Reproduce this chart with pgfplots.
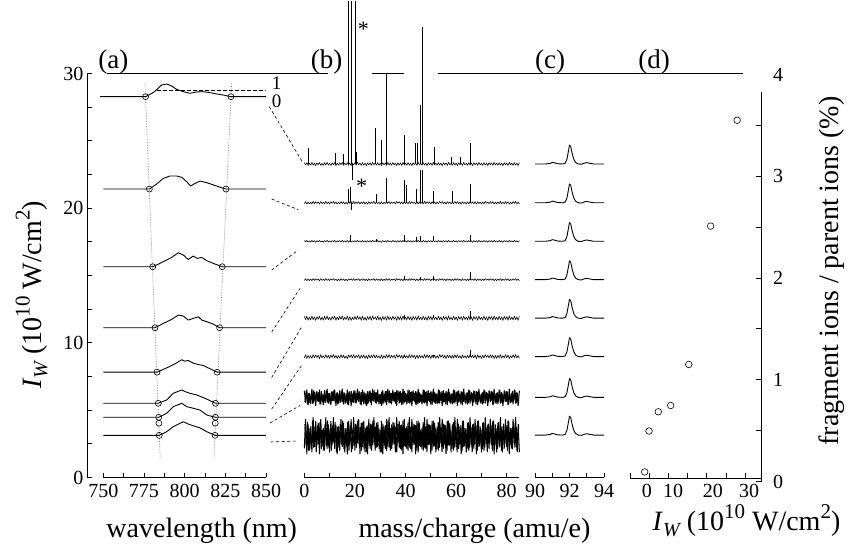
\documentclass[border=0pt]{standalone}
\usepackage{fontspec}
\setmainfont{Liberation Serif}
\usepackage{pgfplots}
\usepackage{pgfplotstable}
\pgfplotsset{compat=1.18}
\newcommand\sups[1]{\raisebox{0.42em}{\fontsize{21}{22}\selectfont #1}}
\newcommand\IW{\textit{I}\raisebox{-0.22em}{\fontsize{20}{22}\selectfont\itshape W}}

% ---------- panel (a): spectra, relative heights (units of I_W axis) ----------
\pgfplotstableread{
x y
748 0
776.0 0
780.7 0.30
783.8 0.62
785.9 0.87
789.0 0.94
792.0 0.79
795.1 0.54
799.2 0.37
803.3 0.25
807.4 0.35
811.5 0.37
815.6 0.30
819.7 0.20
823.8 0.12
828.5 0
850 0
}\sA
\pgfplotstableread{
x y
750 0
778.3 0
782.8 0.37
786.9 0.79
791.0 0.97
795.1 0.97
798.2 0.87
801.3 0.54
803.7 0.22
806.4 0.42
809.4 0.59
813.6 0.47
816.6 0.35
819.7 0.22
825.4 0
850 0
}\sB
\pgfplotstableread{
x y
750 0
780.4 0
784.8 0.25
789.0 0.50
792.0 0.69
796.1 1.04
799.2 0.87
802.2 0.54
805.3 0.79
807.8 0.62
810.5 0.69
813.6 0.45
817.6 0.25
823.1 0
850 0
}\sC
\pgfplotstableread{
x y
750 0
781.8 0
786.9 0.32
792.0 0.62
796.1 0.94
799.2 0.87
802.2 0.57
805.3 0.69
808.4 0.82
810.5 0.57
813.6 0.45
817.6 0.27
821.5 0
850 0
}\sD
\pgfplotstableread{
x y
750 0
783.0 0
789.0 0.32
794.1 0.62
798.2 0.92
800.2 0.82
802.2 0.87
805.3 0.67
808.4 0.57
811.5 0.50
814.5 0.32
820.0 0
850 0
}\sE
\pgfplotstableread{
x y
750 0
783.8 0
789.0 0.25
793.0 0.74
798.2 0.99
800.2 0.87
803.3 0.74
807.4 0.62
812.5 0.37
819.0 0
850 0
}\sF
\pgfplotstableread{
x y
750 0
784.1 0
789.0 0.30
793.0 0.79
798.2 1.04
801.3 0.79
805.3 0.67
809.4 0.54
813.6 0.17
818.9 0
850 0
}\sG
\pgfplotstableread{
x y
750 0
784.4 0
789.0 0.27
793.0 0.64
797.1 0.89
799.2 1.01
802.2 0.84
805.3 0.71
809.4 0.56
813.6 0.27
818.7 0
850 0
}\sH

% ---------- panel (b): baseline noise (relative, read as a zig-zag) ----------
\pgfplotstableread[row sep=\\]{n\\
0.8\\-0.6\\0.9\\-0.9\\0.5\\-0.8\\1.0\\-0.7\\0.6\\-1.0\\
0.7\\-0.5\\0.9\\-0.8\\0.4\\-0.9\\0.8\\-0.6\\1.0\\-0.7\\
0.5\\-0.9\\0.7\\-0.4\\0.9\\-1.0\\0.6\\-0.7\\0.8\\-0.5\\
1.0\\-0.8\\0.5\\-0.6\\0.9\\-0.9\\0.7\\-1.0\\0.4\\-0.6\\
0.8\\-0.7\\1.0\\-0.5\\0.6\\-0.9\\0.9\\-0.8\\0.5\\-1.0\\
0.7\\-0.6\\0.8\\-0.9\\1.0\\-0.5\\0.6\\-0.7\\0.9\\-0.8\\
0.4\\-1.0\\0.8\\-0.6\\0.7\\-0.9\\1.0\\-0.7\\0.5\\-0.8\\
0.9\\-0.5\\0.6\\-1.0\\0.8\\-0.7\\0.7\\-0.9\\1.0\\-0.6\\
0.5\\-0.8\\0.9\\-0.7\\0.6\\-1.0\\0.8\\-0.5\\0.7\\-0.9\\
1.0\\-0.6\\0.4\\-0.8\\0.9\\-0.7\\0.6\\-1.0\\0.8\\-0.5\\
0.7\\-0.9\\1.0\\-0.6\\0.5\\-0.8\\0.9\\-0.7\\0.6\\-1.0\\
0.8\\-0.5\\0.7\\-0.9\\1.0\\-0.6\\0.4\\-0.8\\0.9\\-0.7\\
0.6\\-1.0\\0.8\\-0.5\\0.7\\-0.9\\1.0\\-0.6\\0.5\\-0.8\\
0.9\\-0.7\\0.6\\-1.0\\0.8\\-0.5\\0.7\\-0.9\\1.0\\-0.6\\
0.4\\-0.8\\0.9\\-0.7\\0.6\\-1.0\\0.8\\-0.5\\0.7\\-0.9\\
1.0\\-0.6\\0.5\\-0.8\\0.9\\-0.7\\0.6\\-1.0\\0.8\\-0.5\\
0.7\\-0.9\\1.0\\-0.6\\0.5\\-0.8\\0.9\\-0.7\\0.6\\-1.0\\
0.8\\}\noiseA
\pgfplotstableread[row sep=\\]{n\\
-0.7\\0.9\\-1.0\\0.6\\-0.8\\0.5\\-0.9\\1.0\\-0.6\\0.8\\
-0.5\\0.7\\-1.0\\0.9\\-0.6\\0.4\\-0.8\\1.0\\-0.7\\0.6\\
-0.9\\0.8\\-0.5\\1.0\\-0.7\\0.6\\-1.0\\0.5\\-0.8\\0.9\\
-0.6\\0.7\\-0.9\\0.4\\-1.0\\0.8\\-0.5\\0.9\\-0.7\\1.0\\
-0.8\\0.6\\-0.4\\0.9\\-1.0\\0.7\\-0.6\\0.8\\-0.9\\0.5\\
-1.0\\0.9\\-0.7\\0.6\\-0.5\\1.0\\-0.8\\0.7\\-0.6\\0.4\\
-0.9\\0.8\\-1.0\\0.5\\-0.7\\0.9\\-0.6\\1.0\\-0.8\\0.6\\
-0.5\\0.7\\-0.9\\1.0\\-0.4\\0.8\\-0.7\\0.6\\-1.0\\0.9\\
-0.6\\0.5\\-0.8\\1.0\\-0.7\\0.9\\-0.5\\0.6\\-1.0\\0.8\\
-0.9\\0.7\\-0.6\\0.4\\-0.8\\1.0\\-0.7\\0.9\\-0.5\\0.6\\
-1.0\\0.8\\-0.6\\0.7\\-0.9\\0.5\\-0.8\\1.0\\-0.4\\0.9\\
-0.7\\0.6\\-1.0\\0.8\\-0.5\\0.7\\-0.9\\0.6\\-0.8\\1.0\\
-0.6\\0.9\\-0.7\\0.5\\-1.0\\0.8\\-0.6\\0.4\\-0.9\\0.7\\
-0.8\\1.0\\-0.5\\0.6\\-0.7\\0.9\\-1.0\\0.8\\-0.6\\0.5\\
-0.9\\0.7\\-0.8\\1.0\\-0.4\\0.6\\-0.7\\0.9\\-0.5\\0.8\\
-1.0\\0.6\\-0.9\\0.7\\-0.6\\1.0\\-0.8\\0.5\\-0.7\\0.9\\
-0.6\\0.8\\-1.0\\0.4\\-0.7\\0.9\\-0.5\\1.0\\-0.8\\0.6\\
-0.9\\}\noiseB

% ---------- panel (c): parent-ion peak shape (relative) ----------
\pgfplotstableread{
x y
90.0 0
90.6 0
90.9 0.05
91.0 0.12
91.15 0.08
91.3 0.02
91.6 0.0
91.75 0.05
91.85 0.35
91.93 0.9
92.0 1.4
92.07 1.3
92.15 0.8
92.25 0.35
92.35 0.12
92.5 0.0
92.7 -0.02
92.85 0.06
93.0 0.1
93.15 0.06
93.4 0.0
94.0 0
}\cpk

\pgfplotsset{
  every axis/.append style={
    scale only axis, clip=false,
    axis line style={line width=0.8pt},
    tick style={line width=0.8pt, black},
    tick align=inside,
    major tick length=4.5pt, minor tick length=4.5pt,
    tick label style={font=\fontsize{20}{24}\selectfont},
    xticklabel style={yshift=-3pt},
    /pgf/number format/assume math mode=true,
  },
  spec/.style={black, line width=0.9pt, line join=round},
  noisy/.style={black, line width=0.55pt, line join=round},
  dense/.style={black, line width=1.0pt, line join=round},
}

\begin{document}
\begin{tikzpicture}[x=1pt,y=1pt]
\useasboundingbox (0,0) rectangle (852,548);

% ================= panel (a) data + left axis =================
\begin{axis}[at={(87pt,70.5pt)}, anchor=south west,
  width=179pt, height=404pt,
  xmin=740, xmax=850, ymin=0, ymax=30,
  axis x line=none, xtick=\empty,
  axis y line*=left,
  ytick={0,10,20,30}, minor y tick num=3]
\addplot[black!55, densely dotted, line width=0.6pt] coordinates {(775.6,29.29) (785.0,1.43)};
\addplot[black!55, densely dotted, line width=0.6pt] coordinates {(828.9,29.29) (818.0,1.43)};
\addplot[black, dash pattern=on 4pt off 2pt, line width=0.5pt] coordinates {(782.8,28.78) (849.4,28.78)};
\addplot[spec] table[y expr=\thisrow{y}+28.28]{\sA};
\addplot[spec] table[y expr=\thisrow{y}+21.42]{\sB};
\addplot[spec] table[y expr=\thisrow{y}+15.65]{\sC};
\addplot[spec] table[y expr=\thisrow{y}+11.12]{\sD};
\addplot[spec] table[y expr=\thisrow{y}+7.82]{\sE};
\addplot[spec] table[y expr=\thisrow{y}+5.51]{\sF};
\addplot[spec] table[y expr=\thisrow{y}+4.47]{\sG};
\addplot[spec] table[y expr=\thisrow{y}+3.13]{\sH};
\addplot[only marks, mark=o, mark size=3pt, mark options={fill=white, line width=0.6pt}] coordinates {
(776.0,28.28) (828.5,28.28)
(778.3,21.42) (825.4,21.42)
(780.4,15.65) (823.1,15.65)
(781.8,11.12) (821.5,11.12)
(783.0,7.82) (820.0,7.82)
(783.8,5.51) (819.0,5.51)
(784.1,4.47) (818.9,4.47)
(784.2,4.03) (818.8,4.03)
(784.4,3.13) (818.7,3.13)};
\end{axis}

% ================= panel (a) x axis =================
\begin{axis}[at={(103.3pt,70.5pt)}, anchor=south west,
  width=162.7pt, height=404pt,
  xmin=750, xmax=850, ymin=0, ymax=30,
  axis y line=none, ytick=\empty,
  axis x line*=bottom,
  xtick={750,775,...,850}, minor x tick num=1]
\end{axis}

% ================= panel (b) =================
\begin{axis}[at={(304.3pt,70.5pt)}, anchor=south west,
  width=215.1pt, height=404pt,
  xmin=0, xmax=85, ymin=0, ymax=30,
  axis y line=none, ytick=\empty,
  axis x line*=bottom,
  xtick={0,10,...,80}, xticklabels={0,,20,,40,,60,,80},
  unbounded coords=jump]
\addplot[noisy] table[x index=0, y index=0, x expr=\coordindex*0.5, y expr=\thisrow{n}*0.12+23.28]{\noiseA};
\addplot[noisy] table[x index=0, y index=0, x expr=\coordindex*0.5, y expr=\thisrow{n}*0.10+20.40]{\noiseB};
\addplot[noisy] table[x index=0, y index=0, x expr=\coordindex*0.5, y expr=\thisrow{n}*0.07+17.54]{\noiseA};
\addplot[noisy] table[x index=0, y index=0, x expr=\coordindex*0.5, y expr=\thisrow{n}*0.08+14.69]{\noiseB};
\addplot[noisy] table[x index=0, y index=0, x expr=\coordindex*0.5, y expr=\thisrow{n}*0.17+11.83]{\noiseA};
\addplot[noisy] table[x index=0, y index=0, x expr=\coordindex*0.5, y expr=\thisrow{n}*0.15+8.98]{\noiseB};
\addplot[dense] table[x index=0, y index=0, x expr=\coordindex*0.5, y expr=\thisrow{n}*0.62+5.95]{\noiseA};
\addplot[dense] table[x index=0, y index=0, x expr=\coordindex*0.497+0.25, y expr=\thisrow{n}*0.50+5.95]{\noiseB};
\addplot[dense] table[x index=0, y index=0, x expr=\coordindex*0.5, y expr=\thisrow{n}*1.35+3.10]{\noiseB};
\addplot[dense] table[x index=0, y index=0, x expr=\coordindex*0.497+0.25, y expr=\thisrow{n}*1.15+3.05]{\noiseA};
% peaks, spectrum 1 (top)
\addplot[black, line width=0.8pt] coordinates {
(1.6,23.28) (1.6,24.45) (1.6,nan)
(12.4,23.28) (12.4,24.10) (12.4,nan)
(15.4,23.28) (15.4,24.02) (15.4,nan)
(17.4,23.28) (17.4,35.38) (17.4,nan)
(18.5,23.28) (18.5,35.38) (18.5,nan)
(19.0,23.28) (19.0,22.09) (19.0,nan)
(20.0,23.28) (20.0,35.38) (20.0,nan)
(20.7,23.28) (20.7,24.20) (20.7,nan)
(28.2,23.28) (28.2,25.98) (28.2,nan)
(30.3,23.28) (30.3,25.06) (30.3,nan)
(32.6,23.28) (32.6,29.96) (32.6,nan)
(39.5,23.28) (39.5,25.43) (39.5,nan)
(43.8,23.28) (43.8,24.84) (43.8,nan)
(44.8,23.28) (44.8,24.84) (44.8,nan)
(45.7,23.28) (45.7,27.66) (45.7,nan)
(46.6,23.28) (46.6,33.43) (46.6,nan)
(51.4,23.28) (51.4,24.57) (51.4,nan)
(58.3,23.28) (58.3,23.78) (58.3,nan)
(61.5,23.28) (61.5,23.78) (61.5,nan)
(65.5,23.28) (65.5,24.82)};
% peaks, spectrum 2
\addplot[black, line width=0.8pt] coordinates {
(17.4,20.40) (17.4,21.44) (17.4,nan)
(18.3,20.40) (18.3,21.57) (18.3,nan)
(18.7,20.40) (18.7,19.88) (18.7,nan)
(28.6,20.40) (28.6,21.05) (28.6,nan)
(32.6,20.40) (32.6,22.21) (32.6,nan)
(39.4,20.40) (39.4,22.08) (39.4,nan)
(40.5,20.40) (40.5,21.70) (40.5,nan)
(44.2,20.40) (44.2,21.44) (44.2,nan)
(45.7,20.40) (45.7,22.87) (45.7,nan)
(46.6,20.40) (46.6,22.87) (46.6,nan)
(51.0,20.40) (51.0,21.31) (51.0,nan)
(58.5,20.40) (58.5,21.31) (58.5,nan)
(65.5,20.40) (65.5,21.82)};
% peaks, spectra 3-6
\addplot[black, line width=0.7pt] coordinates {
(18.3,17.54) (18.3,18.04) (18.3,nan)
(28.6,17.54) (28.6,17.74) (28.6,nan)
(39.4,17.54) (39.4,17.99) (39.4,nan)
(44.2,17.54) (44.2,17.84) (44.2,nan)
(45.7,17.54) (45.7,17.94) (45.7,nan)
(51.0,17.54) (51.0,17.94) (51.0,nan)
(65.5,17.54) (65.5,18.04) (65.5,nan)
(39.4,14.69) (39.4,14.99) (39.4,nan)
(45.7,14.69) (45.7,14.89) (45.7,nan)
(51.0,14.69) (51.0,14.99) (51.0,nan)
(65.5,14.69) (65.5,15.24) (65.5,nan)
(39.4,11.83) (39.4,12.03) (39.4,nan)
(51.0,11.83) (51.0,12.03) (51.0,nan)
(65.5,11.83) (65.5,12.33) (65.5,nan)
(39.4,8.98) (39.4,9.13) (39.4,nan)
(51.0,8.98) (51.0,9.13) (51.0,nan)
(65.5,8.98) (65.5,9.48)};
\end{axis}

% ================= panel (c) =================
\begin{axis}[at={(535pt,70.5pt)}, anchor=south west,
  width=69pt, height=404pt,
  xmin=90, xmax=94, ymin=0, ymax=30,
  axis y line=none, ytick=\empty,
  axis x line*=bottom,
  xtick={90,91,92,93,94}, xticklabels={90,,92,,94}]
\addplot[spec] table[y expr=\thisrow{y}+23.28]{\cpk};
\addplot[spec] table[y expr=\thisrow{y}+20.40]{\cpk};
\addplot[spec] table[y expr=\thisrow{y}+17.54]{\cpk};
\addplot[spec] table[y expr=\thisrow{y}+14.69]{\cpk};
\addplot[spec] table[y expr=\thisrow{y}+11.83]{\cpk};
\addplot[spec] table[y expr=\thisrow{y}+8.98]{\cpk};
\addplot[spec] table[y expr=\thisrow{y}+5.95]{\cpk};
\addplot[spec] table[y expr=\thisrow{y}+3.15]{\cpk};
\end{axis}

% ================= panel (d): points + right axis =================
\begin{axis}[at={(630pt,66.5pt)}, anchor=south west,
  width=131.7pt, height=407pt,
  xmin=0, xmax=34.3, ymin=0, ymax=4,
  axis x line=none, xtick=\empty,
  axis y line*=right,
  y axis line style={shorten >=17.3pt},
  ytick={0,1,2,3}, minor ytick={0.5,1.5,2.5,3.5},
  extra y ticks={4}, extra y tick style={major tick length=0pt},
  major tick length=5.7pt, minor tick length=5.7pt,
  yticklabel style={xshift=8pt}]
\addplot[only marks, mark=o, mark size=3.3pt, mark options={line width=0.6pt}] coordinates {
(3.83,0.094) (4.95,0.496) (7.37,0.685) (10.6,0.747) (15.3,1.15) (21.0,2.51) (27.9,3.55)};
\end{axis}
\begin{axis}[at={(630pt,70pt)}, anchor=south west,
  width=131.7pt, height=404pt,
  xmin=0, xmax=34.3, ymin=0, ymax=4,
  axis y line=none, ytick=\empty,
  axis x line*=bottom,
  xtick={0,5,...,30}, xticklabels={},
  extra x ticks={4.4,11.2,21.6,31.0}, extra x tick labels={0,10,20,30},
  extra x tick style={major tick length=0pt}]
\end{axis}

% ================= frame line, connectors, labels =================
\draw[line width=0.8pt] (106.7,474.25) -- (328.3,474.25);
\draw[line width=0.8pt] (372.3,474.25) -- (404.3,474.25);
\draw[line width=0.8pt] (437.7,474.25) -- (743.3,474.25);

\begin{scope}[line width=0.6pt, dash pattern=on 3pt off 2.5pt]
\draw (269.3,441.4) -- (303,385);
\draw (271.7,349) -- (298.3,338.3);
\draw (271.7,278) -- (298.3,298);
\draw (271.7,216) -- (300,259.6);
\draw (271.7,170.5) -- (301.7,221.2);
\draw (271.7,139) -- (301.7,182.7);
\draw (270,125) -- (300,142.5);
\draw (270.7,106) -- (297,107);
\end{scope}

\begin{scope}[every node/.style={font=\fontsize{27}{32}\selectfont, inner sep=0pt}]
\node at (113.3,486) {(a)};
\node at (326.7,486) {(b)};
\node at (550,486) {(c)};
\node at (654,486) {(d)};
\end{scope}
\begin{scope}[every node/.style={font=\fontsize{28}{32}\selectfont, inner sep=0pt}]
\node[rotate=90] at (31.7,253) {\IW{} (10\sups{10} W/cm\sups{2})};
\node[rotate=90] at (832,277) {fragment ions / parent ions (\%)};
\node at (201.7,17) {wavelength (nm)};
\node at (474.5,17) {mass/charge (amu/e)};
\node at (746.5,27) {\IW{} (10\sups{10} W/cm\sups{2})};
\end{scope}
\begin{scope}[every node/.style={font=\fontsize{19}{22}\selectfont, inner sep=0pt}]
\node at (276.7,464.7) {1};
\node at (276.7,446.3) {0};
\end{scope}
\begin{scope}[every node/.style={font=\fontsize{22}{24}\selectfont, inner sep=0pt}]
\node at (363.3,519) {*};
\node at (361.7,362) {*};
\end{scope}
\end{tikzpicture}
\end{document}
